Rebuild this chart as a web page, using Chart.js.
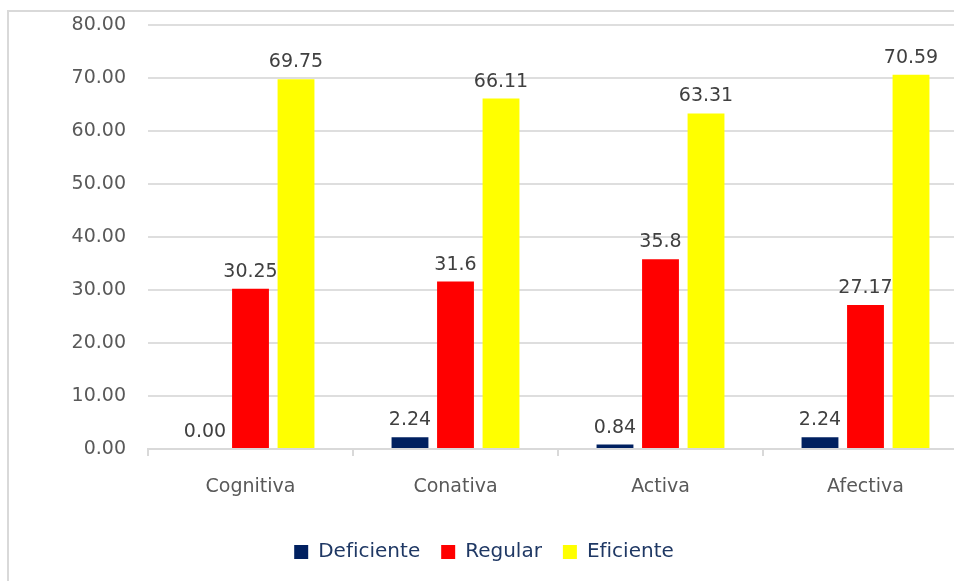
<!DOCTYPE html>
<html lang="es">
<head>
<meta charset="utf-8">
<title>Dimensiones</title>
<script src="https://cdn.jsdelivr.net/npm/chart.js@4"></script>
<style>
  html, body { margin: 0; padding: 0; width: 954px; height: 581px; overflow: hidden; background: #fff; }
  #frame {
    position: absolute; left: 7px; top: 10px; width: 1000px; height: 700px;
    border: 2px solid #d9d9d9; box-sizing: border-box;
  }
  #chart { position: absolute; left: 0; top: 0; }
</style>
</head>
<body>
<div id="frame"></div>
<canvas id="chart" width="975" height="581"></canvas>
<script>
// Categories and series
const categorias = ['Cognitiva', 'Conativa', 'Activa', 'Afectiva'];
const deficiente = [0.00, 2.24, 0.84, 2.24];
const regular = [30.25, 31.6, 35.8, 27.17];
const eficiente = [69.75, 66.11, 63.31, 70.59];
const yTicks = [0, 10, 20, 30, 40, 50, 60, 70, 80];

const FONT = 'DejaVu Sans';

// Value labels above every bar
const valueLabels = {
  id: 'valueLabels',
  afterDatasetsDraw(chart) {
    const ctx = chart.ctx;
    ctx.save();
    ctx.font = '19px "' + FONT + '"';
    ctx.fillStyle = '#404040';
    ctx.textAlign = 'center';
    ctx.textBaseline = 'alphabetic';
    chart.data.datasets.forEach((ds, i) => {
      chart.getDatasetMeta(i).data.forEach((bar, j) => {
        const v = ds.data[j];
        const txt = ds.fixedDigits ? v.toFixed(ds.fixedDigits) : String(v);
        ctx.fillText(txt, bar.x, bar.y - 12);
      });
    });
    ctx.restore();
  }
};

const ctx = document.getElementById('chart').getContext('2d');
const chart = new Chart(ctx, {
  type: 'bar',
  data: {
    labels: categorias,
    datasets: [
      { label: 'Deficiente', data: deficiente, backgroundColor: '#002060', fixedDigits: 2 },
      { label: 'Regular', data: regular, backgroundColor: '#ff0000' },
      { label: 'Eficiente', data: eficiente, backgroundColor: '#ffff00' }
    ]
  },
  options: {
    responsive: false,
    animation: false,
    devicePixelRatio: 1,
    categoryPercentage: 0.666,
    barPercentage: 0.81,
    layout: { padding: { left: 0, right: 7, top: 25, bottom: 9 } },
    plugins: {
      tooltip: { enabled: false },
      legend: {
        position: 'bottom',
        labels: {
          boxWidth: 14,
          boxHeight: 14,
          padding: 21,
          color: '#1f3864',
          font: { family: FONT, size: 20 }
        }
      }
    },
    scales: {
      x: {
        grid: { drawOnChartArea: false, drawTicks: true, tickLength: 7, color: '#d9d9d9', lineWidth: 2 },
        border: { color: '#d9d9d9', width: 2 },
        ticks: { color: '#595959', padding: 20, font: { family: FONT, size: 19 } },
        afterFit(scale) { scale.height = 72; }
      },
      y: {
        min: yTicks[0],
        max: yTicks[yTicks.length - 1],
        afterBuildTicks(scale) { scale.ticks = yTicks.map(v => ({ value: v })); },
        grid: { color: '#dedede', lineWidth: 2, drawTicks: false },
        border: { display: false },
        ticks: {
          color: '#595959',
          padding: 22,
          font: { family: FONT, size: 19 },
          callback: v => v.toFixed(2)
        },
        // fixed axis width; no extra room reserved for the end labels
        afterFit(scale) {
          scale.width = 148;
          scale.paddingTop = 0;
          scale.paddingBottom = 0;
        }
      }
    }
  },
  plugins: [valueLabels]
});
</script>
</body>
</html>
